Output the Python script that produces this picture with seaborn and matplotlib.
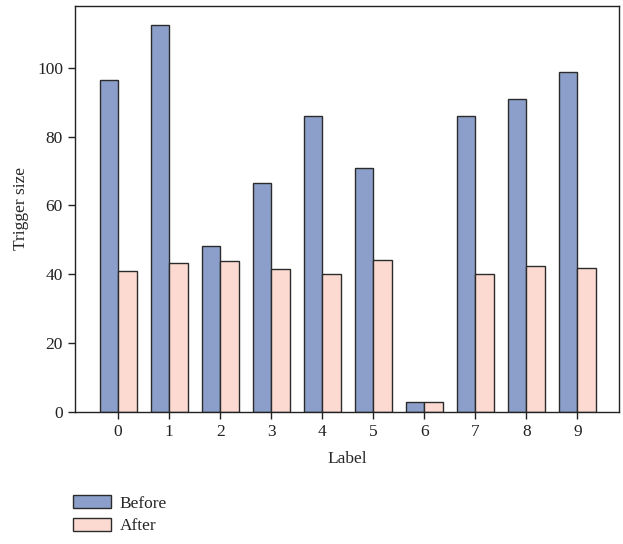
import numpy as np
import pandas as pd
import matplotlib
matplotlib.use("Agg")
import matplotlib.pyplot as plt
import seaborn as sns

labels = ["0", "1", "2", "3", "4", "5", "6", "7", "8", "9"]
before = [96.5, 112.5, 48.1, 66.5, 86.0, 70.8, 2.9, 86.1, 91.0, 98.7]
after = [40.9, 43.4, 43.8, 41.4, 40.2, 44.0, 2.9, 40.2, 42.5, 41.9]

sns.set_style("ticks")
plt.rcParams["font.family"] = ["Liberation Serif", "DejaVu Serif"]
plt.rcParams["font.size"] = 12.5

df = pd.DataFrame({
    "Label": labels * 2,
    "Trigger size": before + after,
    "Stage": ["Before"] * len(labels) + ["After"] * len(labels),
})

fig = plt.figure(figsize=(6.23, 5.44), dpi=100)
ax = fig.add_axes([0.12, 0.243, 0.874, 0.746])

sns.barplot(data=df, x="Label", y="Trigger size", hue="Stage",
            palette={"Before": "#8c9fca", "After": "#fcdad2"}, saturation=1,
            width=0.72, edgecolor="#2b2b2b", linewidth=1.0, ax=ax)

ax.set_xlim(-0.85, 9.82)
ax.set_ylim(0, 118)
ax.set_yticks([0, 20, 40, 60, 80, 100])
for s in ax.spines.values():
    s.set_visible(True)
    s.set_color("#222222")
    s.set_linewidth(1.0)
ax.tick_params(axis="both", direction="out", length=5, width=1.0, colors="#222222", labelsize=12.5)
ax.set_xlabel("Label", fontsize=12.5, labelpad=8)
ax.set_ylabel("Trigger size", fontsize=12.5, labelpad=6)

handles, lbls = ax.get_legend_handles_labels()
ax.get_legend().remove()
fig.legend(handles, lbls, loc="upper left", bbox_to_anchor=(0.106, 0.102),
           frameon=False, fontsize=12.5, handlelength=2.2, handleheight=0.75,
           handletextpad=0.5, labelspacing=0.35, borderaxespad=0)

fig.savefig("out.png", dpi=100)
